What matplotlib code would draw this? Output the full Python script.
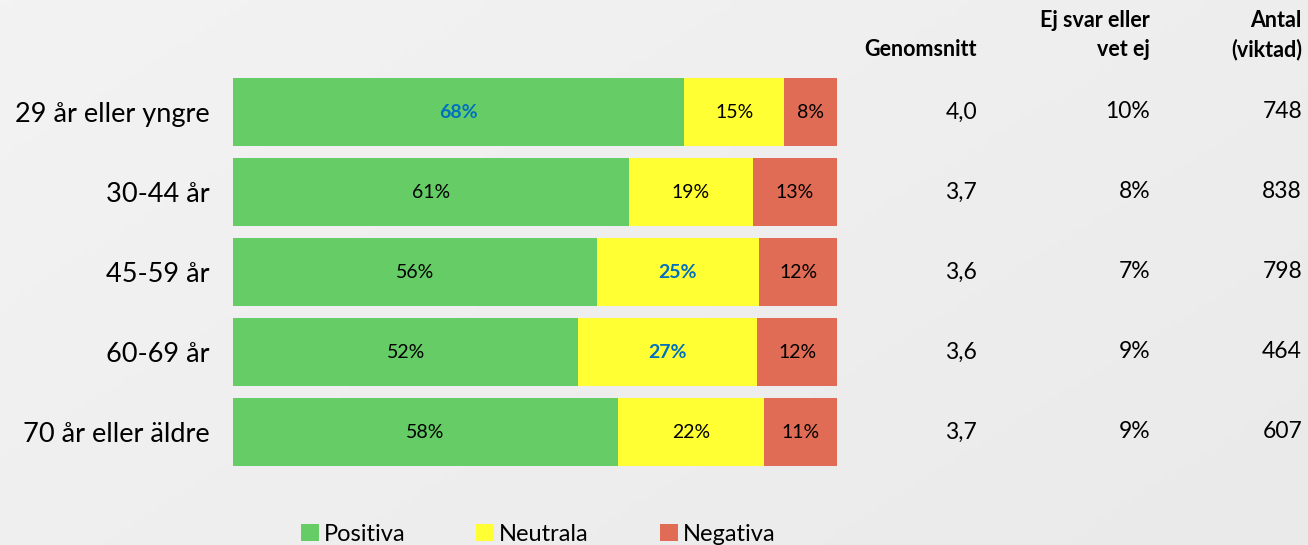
import matplotlib
matplotlib.use("Agg")
import matplotlib.pyplot as plt
import numpy as np
from matplotlib.transforms import blended_transform_factory
from matplotlib.patches import Rectangle

plt.rcParams['font.family'] = ['Lato', 'DejaVu Sans']

categories = ["29 år eller yngre", "30-44 år", "45-59 år", "60-69 år", "70 år eller äldre"]
positiva = [68, 61, 56, 52, 58]
neutrala = [15, 19, 25, 27, 22]
negativa = [8, 13, 12, 12, 11]
genomsnitt = ["4,0", "3,7", "3,6", "3,6", "3,7"]
ej_svar = ["10%", "8%", "7%", "9%", "9%"]
antal = ["748", "838", "798", "464", "607"]
# highlighted labels (bold blue)
hl_pos = [True, False, False, False, False]
hl_neu = [False, False, True, True, False]
hl_neg = [False, False, False, False, False]

series_names = ["Positiva", "Neutrala", "Negativa"]
colors = ["#66cc66", "#ffff33", "#e06c55"]
blue = "#0070c0"

W, H = 1308, 545
fig = plt.figure(figsize=(W / 100, H / 100), dpi=100)

# background gradient
bg = fig.add_axes([0, 0, 1, 1], zorder=-10)
gx = np.linspace(0, 1, 200)
gy = np.linspace(0, 1, 100)
GX, GY = np.meshgrid(gx, gy)
G = 0.6 * GX + 0.4 * GY
bg.imshow(G, cmap=matplotlib.colors.LinearSegmentedColormap.from_list("g", ["#f3f3f3", "#eaeaea"]),
          aspect="auto", extent=[0, 1, 1, 0])
bg.axis("off")

ax = fig.add_axes([233 / W, 1 - 472 / H, 604 / W, 400 / H])
ax.set_facecolor("none")
y = np.arange(len(categories))
tot = np.array(positiva) + np.array(neutrala) + np.array(negativa)
vals = [np.array(positiva) / tot * 100, np.array(neutrala) / tot * 100, np.array(negativa) / tot * 100]
raw = [positiva, neutrala, negativa]
hls = [hl_pos, hl_neu, hl_neg]
left = np.zeros(len(categories))
for k in range(3):
    ax.barh(y, vals[k], left=left, height=0.85, color=colors[k], edgecolor="none")
    for i in range(len(categories)):
        cx = left[i] + vals[k][i] / 2
        if hls[k][i]:
            ax.text(cx, y[i], f"{raw[k][i]}%", ha="center", va="center", fontsize=14,
                    color=blue, fontweight="bold")
        else:
            ax.text(cx, y[i], f"{raw[k][i]}%", ha="center", va="center", fontsize=14, color="black")
    left += vals[k]

ax.set_xlim(0, 100)
ax.set_ylim(len(categories) - 0.5, -0.5)
ax.set_yticks(y)
ax.set_yticklabels(categories, fontsize=19.5)
ax.tick_params(axis="y", length=0, pad=17)
ax.set_xticks([])
for s in ax.spines.values():
    s.set_visible(False)

tr = blended_transform_factory(fig.transFigure, ax.transData)
cols = [(977, genomsnitt), (1150, ej_svar), (1302, antal)]
for xpx, vals_c in cols:
    for i, v in enumerate(vals_c):
        ax.text(xpx / W, y[i], v, transform=tr, ha="right", va="center", fontsize=16.5, color="black")

# headers
hdr_kw = dict(ha="right", va="baseline", fontsize=15.5, fontweight="bold", color="black")
fig.text(977 / W, 1 - 56 / H, "Genomsnitt", **hdr_kw)
fig.text(1150 / W, 1 - 27 / H, "Ej svar eller", **hdr_kw)
fig.text(1150 / W, 1 - 56 / H, "vet ej", **hdr_kw)
fig.text(1302 / W, 1 - 27 / H, "Antal", **hdr_kw)
fig.text(1302 / W, 1 - 56 / H, "(viktad)", **hdr_kw)

# legend
leg_x = [301, 476, 660]
for xpx, c, n in zip(leg_x, colors, series_names):
    fig.patches.append(Rectangle((xpx / W, 1 - 541 / H), 18 / W, 17 / H, transform=fig.transFigure,
                                 facecolor=c, edgecolor="none"))
    fig.text((xpx + 23) / W, 1 - 541 / H, n, ha="left", va="baseline", fontsize=17, color="black")

fig.savefig("out.png", dpi=100)
